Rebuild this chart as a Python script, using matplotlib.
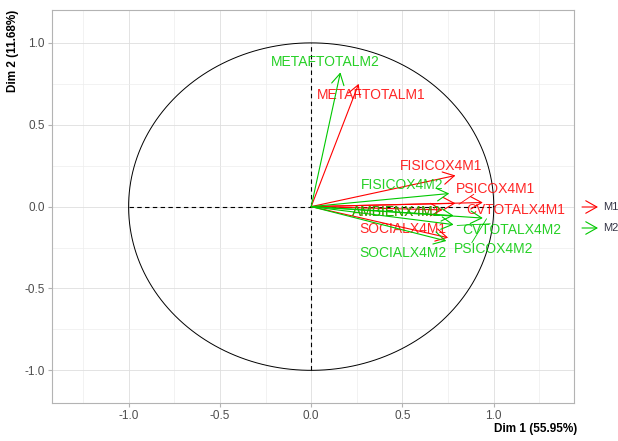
import numpy as np
import matplotlib
matplotlib.use("Agg")
import matplotlib.pyplot as plt

# coordenadas de las variables (Dim 1, Dim 2)
vars_m1 = ["METAFTOTALM1", "FISICOX4M1", "PSICOX4M1", "CVTOTALX4M1", "AMBIENX4M1", "SOCIALX4M1"]
dim1_m1 = [0.26, 0.79, 0.79, 0.94, 0.72, 0.75]
dim2_m1 = [0.75, 0.19, 0.02, 0.025, -0.02, -0.19]

vars_m2 = ["METAFTOTALM2", "FISICOX4M2", "AMBIENX4M2", "PSICOX4M2", "CVTOTALX4M2", "SOCIALX4M2"]
dim1_m2 = [0.16, 0.756, 0.78, 0.94, 0.78, 0.74]
dim2_m2 = [0.82, 0.08, -0.055, -0.07, -0.11, -0.21]

# posiciones de las etiquetas (como ggrepel)
lab_m1 = {"METAFTOTALM1": (0.33, 0.68), "FISICOX4M1": (0.71, 0.245), "PSICOX4M1": (1.01, 0.105),
          "CVTOTALX4M1": (1.12, -0.02), "AMBIENX4M1": (0.47, -0.03), "SOCIALX4M1": (0.50, -0.135)}
lab_m2 = {"METAFTOTALM2": (0.08, 0.885), "FISICOX4M2": (0.50, 0.13), "AMBIENX4M2": (0.47, -0.03),
          "PSICOX4M2": (1.00, -0.26), "CVTOTALX4M2": (1.10, -0.145), "SOCIALX4M2": (0.50, -0.285)}

rojo = "#FF0000"
verde = "#00C800"
fuente = "Liberation Sans"

fig = plt.figure(figsize=(6.18, 4.41), dpi=100)
ax = fig.add_axes([0.084, 0.086, 0.845, 0.891])
ax.set_xlim(-1.42, 1.44)
ax.set_ylim(-1.2, 1.2)

ax.set_xticks([-1.0, -0.5, 0.0, 0.5, 1.0])
ax.set_yticks([-1.0, -0.5, 0.0, 0.5, 1.0])
ax.set_xticks(np.arange(-1.25, 1.3, 0.5), minor=True)
ax.set_yticks([-0.75, -0.25, 0.25, 0.75], minor=True)
ax.set_xticklabels(["-1.0", "-0.5", "0.0", "0.5", "1.0"], family=fuente)
ax.set_yticklabels(["-1.0", "-0.5", "0.0", "0.5", "1.0"], family=fuente)
ax.grid(True, which="major", color="#DEDEDE", lw=0.6)
ax.grid(True, which="minor", color="#EDEDED", lw=0.5)
ax.set_axisbelow(True)
ax.tick_params(which="major", colors="#B3B3B3", labelcolor="#4D4D4D", labelsize=8.5, length=3, pad=2)
ax.tick_params(which="minor", length=0)
for s in ax.spines.values():
    s.set_color("#B3B3B3")
    s.set_linewidth(0.8)

# círculo de correlaciones
t = np.linspace(0, 2 * np.pi, 400)
ax.plot(np.cos(t), np.sin(t), color="black", lw=0.7)
ax.plot([-1, 1], [0, 0], color="black", lw=0.8, ls=(0, (4, 3)))
ax.plot([0, 0], [-1, 1], color="black", lw=0.8, ls=(0, (4, 3)))

estilo = "->,head_length=0.8,head_width=0.45"

def flechas(nombres, xs, ys, labs, color):
    for n, x, y in zip(nombres, xs, ys):
        ax.annotate("", xy=(x, y), xytext=(0, 0),
                    arrowprops=dict(arrowstyle=estilo, color=color, lw=0.8, shrinkA=0, shrinkB=0))
    for n, x, y in zip(nombres, xs, ys):
        lx, ly = labs[n]
        if n in ("PSICOX4M1", "CVTOTALX4M2", "PSICOX4M2"):
            ax.plot([x + 0.02, lx - 0.12], [y - 0.005, ly + (-0.03 if ly > y else 0.04)], color=color, lw=0.6)
        ax.text(lx, ly, n, color=color, fontsize=10, ha="center", va="center", family=fuente, alpha=0.85)

flechas(vars_m1, dim1_m1, dim2_m1, lab_m1, rojo)
flechas(vars_m2, dim1_m2, dim2_m2, lab_m2, verde)

fig.text(0.934, 1 - 423 / 441, "Dim 1 (55.95%)", ha="right", va="top", fontsize=8.5, fontweight="bold",
         family=fuente)
fig.text(0.012, 0.977, "Dim 2 (11.68%)", ha="left", va="top", rotation=90, fontsize=8.5,
         fontweight="bold", family=fuente)

# leyenda
grupos = ["M1", "M2"]
colores = [rojo, verde]
for i, (g, c) in enumerate(zip(grupos, colores)):
    yy = 1 - (207 + i * 21) / 441
    fig.add_artist(matplotlib.patches.FancyArrowPatch((582 / 618, yy), (598 / 618, yy),
                   transform=fig.transFigure, arrowstyle=estilo, color=c, lw=0.8,
                   mutation_scale=10, shrinkA=0, shrinkB=0))
    fig.text(603 / 618, yy, g, ha="left", va="center", fontsize=8, color="#333344", family=fuente)

fig.savefig("out.png", dpi=100)
